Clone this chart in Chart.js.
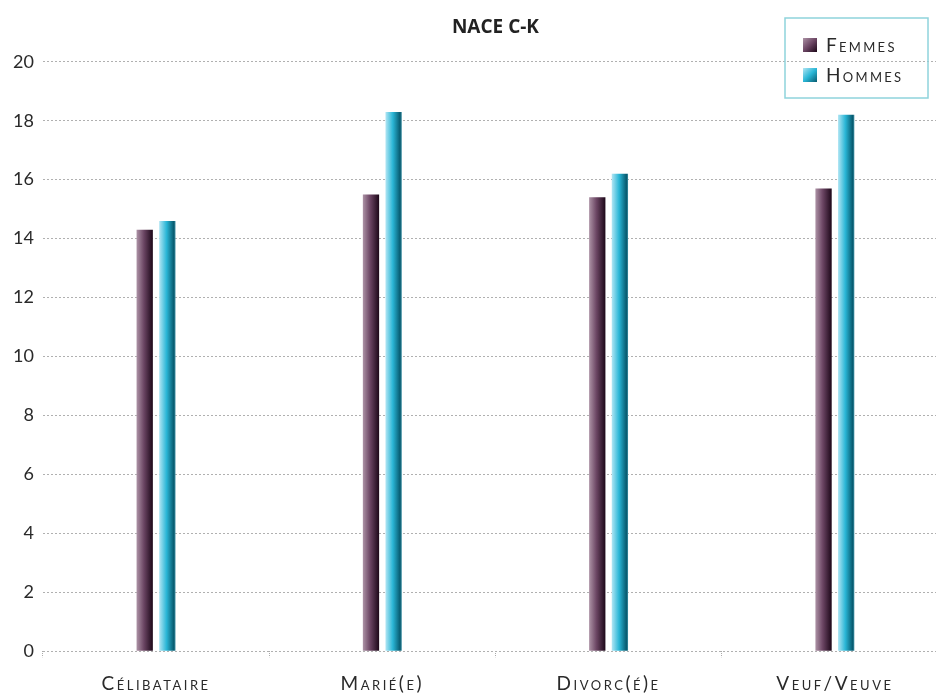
<!DOCTYPE html>
<html>
<head>
<meta charset="utf-8">
<script src="https://cdn.jsdelivr.net/npm/chart.js@4.4.1/dist/chart.umd.min.js"></script>
<style>
  html, body { margin: 0; background: #fff; overflow: hidden; }
  #wrap { width: 936px; height: 696px; overflow: hidden; }
</style>
</head>
<body>
<!-- the plot runs a little past the right edge, as in the original -->
<div id="wrap"><canvas id="naceChart" width="948" height="696"></canvas></div>
<script>
const chartTitle = "NACE C-K";
const categories = ["Célibataire", "Marié(e)", "Divorc(é)e", "Veuf/Veuve"];
const femmes = [14.3, 15.5, 15.4, 15.7];
const hommes = [14.6, 18.3, 16.2, 18.2];
const yTicks = [0, 2, 4, 6, 8, 10, 12, 14, 16, 18, 20];

const CAT_PCT = 0.2;
const BAR_PCT = 0.72;

const femmesStops = [[0, "#ad93a6"], [0.45, "#6b4563"], [1, "#1c0718"]];
const hommesStops = [[0, "#b2e6f4"], [0.45, "#2ab6d6"], [0.9, "#075a6f"], [1, "#3f8fa3"]];

// horizontal gradient across each bar, using the x scale to find the bar
function barFill(stops) {
  return (ctx) => {
    const chart = ctx.chart;
    const x = chart.scales.x;
    if (!x || ctx.type !== "data") return stops[1][1];
    const cat = x.width / chart.data.labels.length;
    const chunk = cat * CAT_PCT / 2;
    const center = x.getPixelForValue(ctx.dataIndex);
    const start = center - cat * CAT_PCT / 2 + chunk * ctx.datasetIndex + chunk * (1 - BAR_PCT) / 2;
    const w = chunk * BAR_PCT;
    if (!isFinite(start) || !isFinite(w) || w <= 0) return stops[1][1];
    const g = chart.ctx.createLinearGradient(start, 0, start + w, 0);
    stops.forEach(s => g.addColorStop(s[0], s[1]));
    return g;
  };
}

// spaced small caps for the category labels (x ticks are drawn after the bars)
const letterSpacing = {
  id: "letterSpacing",
  beforeDraw(chart) { chart.ctx.letterSpacing = "0px"; },
  afterDatasetsDraw(chart) { chart.ctx.letterSpacing = "2.5px"; },
  afterDraw(chart) { chart.ctx.letterSpacing = "0px"; }
};

// legend in a framed box at top right
const boxLegend = {
  id: "boxLegend",
  afterDraw(chart) {
    const c = chart.ctx;
    const left = 785, top = 18, w = 143, h = 80;
    c.save();
    c.strokeStyle = "#8fd3dc";
    c.lineWidth = 1.5;
    c.strokeRect(left, top, w, h);
    const swatches = [femmesStops, hommesStops];
    chart.data.datasets.forEach((ds, i) => {
      const y = top + 27 + i * 30;
      const g = c.createLinearGradient(803, y - 7, 817, y + 7);
      g.addColorStop(0, swatches[i][0][1]);
      g.addColorStop(0.5, swatches[i][1][1]);
      g.addColorStop(1, swatches[i][2][1]);
      c.fillStyle = g;
      c.fillRect(803, y - 7, 14, 14);
      c.fillStyle = "#2a2a2a";
      c.font = "normal small-caps 400 19px Lato";
      c.letterSpacing = "2.3px";
      c.textBaseline = "middle";
      c.fillText(ds.label, 826, y + 1);
    });
    c.restore();
  }
};

new Chart(document.getElementById("naceChart"), {
  type: "bar",
  data: {
    labels: categories,
    datasets: [
      { label: "Femmes", data: femmes, backgroundColor: barFill(femmesStops) },
      { label: "Hommes", data: hommes, backgroundColor: barFill(hommesStops) }
    ]
  },
  options: {
    responsive: false,
    animation: false,
    categoryPercentage: CAT_PCT,
    barPercentage: BAR_PCT,
    layout: { padding: { left: 4, right: 0, top: 0, bottom: -14 } },
    plugins: {
      legend: { display: false },
      tooltip: { enabled: false },
      title: {
        display: true,
        fullSize: false,
        text: chartTitle,
        color: "#222",
        font: { family: "Open Sans", size: 19, weight: "bold" },
        padding: { top: 16, bottom: 23 }
      }
    },
    scales: {
      x: {
        border: { display: false },
        grid: {
          drawOnChartArea: false,
          drawTicks: true,
          tickLength: 6,
          tickColor: "#aaa",
          tickBorderDash: [1, 1]
        },
        ticks: {
          z: 1,
          color: "#2a2a2a",
          padding: 15,
          font: { family: "Lato", size: 19, weight: "small-caps" }
        }
      },
      y: {
        min: 0,
        max: 20,
        border: { display: false, dash: [2, 2] },
        grid: {
          color: "#b0b0b0",
          lineWidth: 1,
          drawTicks: false
        },
        afterBuildTicks: (axis) => { axis.ticks = yTicks.map(v => ({ value: v })); },
        ticks: {
          color: "#2a2a2a",
          padding: 9,
          font: { family: "Lato", size: 18 }
        }
      }
    }
  },
  plugins: [letterSpacing, boxLegend]
});
</script>
</body>
</html>
